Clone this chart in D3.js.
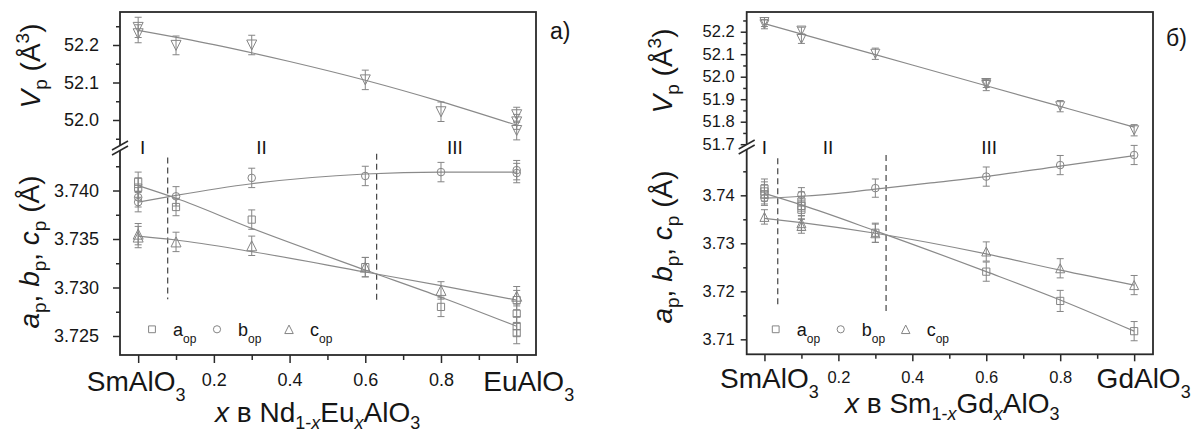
<!DOCTYPE html>
<html>
<head>
<meta charset="utf-8">
<script src="https://cdn.jsdelivr.net/npm/d3@7"></script>
<style>
  html, body { margin: 0; padding: 0; background: #fff; }
  svg { display: block; font-family: "Liberation Sans", Arial, Helvetica, sans-serif; }
</style>
</head>
<body>
<svg id="chart" width="1199" height="431"></svg>
<script>
// ---------- shared composition axis ----------
const xMajorTicks = [0, 0.2, 0.4, 0.6, 0.8, 1.0];
const xMinorTicks = [0.1, 0.3, 0.5, 0.7, 0.9];
const xInnerTicks = [0.2, 0.4, 0.6, 0.8];

// ---------- panel a) : [x, value, error] ----------
const volA = [[0, 52.247, 0.027], [0, 52.230, 0.024], [0.1, 52.199, 0.025], [0.3, 52.200, 0.026],
              [0.6, 52.107, 0.026], [0.8, 52.022, 0.026], [1, 52.014, 0.02], [1, 51.995, 0.02], [1, 51.972, 0.025]];
const aOpA = [[0, 3.7409, 0.0010], [0, 3.7403, 0.0010], [0.1, 3.7383, 0.0009], [0.3, 3.7370, 0.0010],
              [0.6, 3.7321, 0.0010], [0.8, 3.7280, 0.0010], [1, 3.7287, 0.0010], [1, 3.7273, 0.0010],
              [1, 3.7260, 0.0010], [1, 3.7253, 0.0011]];
const bOpA = [[0, 3.7393, 0.0010], [0, 3.7388, 0.0010], [0.1, 3.7394, 0.0010], [0.3, 3.7413, 0.0010],
              [0.6, 3.7415, 0.0010], [0.8, 3.7419, 0.0010], [1, 3.7421, 0.0010], [1, 3.7418, 0.0010]];
const cOpA = [[0, 3.7355, 0.0011], [0, 3.7352, 0.0011], [0.1, 3.7347, 0.0010], [0.3, 3.7343, 0.0010],
              [0.6, 3.7321, 0.0010], [0.8, 3.7297, 0.0009], [1, 3.7291, 0.0010]];
// fitted curves: [x, value]
const fitVolA = [[0, 52.239], [0.2, 52.201], [0.4, 52.156], [0.6, 52.106], [0.8, 52.049], [1, 51.986]];
const fitAA = [[0, 3.7405], [0.1, 3.7392], [0.3, 3.7361], [0.6, 3.7318], [0.8, 3.7290], [1, 3.7260]];
const fitBA = [[0, 3.7388], [0.1, 3.7395], [0.3, 3.7407], [0.6, 3.7417], [0.8, 3.7419], [1, 3.7419]];
const fitCA = [[0, 3.7353], [0.1, 3.7349], [0.3, 3.7337], [0.6, 3.7316], [0.8, 3.7302], [1, 3.7287]];
// phase boundaries: [x, low, high]
const boundsA = [[0.078, 3.7288, 3.7434], [0.630, 3.7287, 3.7438]];
const regionsA = [["I", 0.012], ["II", 0.326], ["III", 0.837]];

// ---------- panel б) ----------
const volB = [[0, 52.243, 0.02], [0, 52.233, 0.02], [0.1, 52.205, 0.015], [0.1, 52.168, 0.02],
              [0.3, 52.102, 0.025], [0.6, 51.972, 0.02], [0.6, 51.963, 0.025], [0.8, 51.869, 0.025], [1, 51.762, 0.025]];
const aOpB = [[0, 3.7414, 0.002], [0, 3.7408, 0.002], [0, 3.7402, 0.002], [0.1, 3.7387, 0.002],
              [0.1, 3.7378, 0.002], [0.1, 3.7370, 0.002], [0.3, 3.7322, 0.002], [0.6, 3.7241, 0.002],
              [0.8, 3.7180, 0.0022], [1, 3.7117, 0.002]];
const bOpB = [[0, 3.7394, 0.0015], [0.1, 3.7401, 0.0015], [0.3, 3.7415, 0.0019], [0.6, 3.7439, 0.002],
              [0.8, 3.7463, 0.002], [1, 3.7484, 0.002]];
const cOpB = [[0, 3.7355, 0.0015], [0.1, 3.7342, 0.0015], [0.1, 3.7336, 0.0015], [0.3, 3.7321, 0.0019],
              [0.6, 3.7283, 0.002], [0.8, 3.7248, 0.002], [1, 3.7213, 0.002]];
const fitVolB = [[0, 52.236], [0.2, 52.144], [0.4, 52.052], [0.6, 51.960], [0.8, 51.868], [1, 51.776]];
const fitAB = [[0, 3.7404], [0.1, 3.7380], [0.3, 3.7326], [0.6, 3.7241], [0.8, 3.7182], [1, 3.7117]];
const fitBB = [[0, 3.7394], [0.1, 3.7398], [0.2, 3.7404], [0.3, 3.7413], [0.45, 3.7426], [0.6, 3.7439], [0.8, 3.7461], [1, 3.74825]];
const fitCB = [[0, 3.7352], [0.1, 3.7343], [0.3, 3.7321], [0.6, 3.7278], [0.8, 3.7244], [1, 3.7213]];
const boundsB = [[0.036, 3.7165, 3.7477], [0.329, 3.7158, 3.7484]];
const regionsB = [["I", 0.0], ["II", 0.172], ["III", 0.608]];

// ---------- tick values ----------
const volTicksA = [52.0, 52.1, 52.2];
const volMinorA = [51.95, 52.05, 52.15, 52.25];
const latTicksA = [3.725, 3.730, 3.735, 3.740];
const latMinorA = [3.7275, 3.7325, 3.7375, 3.7425];
const volTicksB = [51.7, 51.8, 51.9, 52.0, 52.1, 52.2];
const volMinorB = [51.75, 51.85, 51.95, 52.05, 52.15, 52.25];
const latTicksB = [3.71, 3.72, 3.73, 3.74];
const latMinorB = [3.715, 3.725, 3.735, 3.745];

const legendNames = [["a", "op"], ["b", "op"], ["c", "op"]];

// ---------- styling ----------
const INK = "#161616";
const FRAME = "#2a2a2a";
const MARK = "#858585";
const FIT = "#8a8a8a";

const svg = d3.select("#chart");

// Rich text helper: parts are [text, mode, italic]; mode "sub" / "sup" / ""
function rich(sel, parts, size, small, subShift, supShift) {
  let cur = 0;
  parts.forEach(([t, mode, it]) => {
    const target = mode === "sub" ? subShift : mode === "sup" ? -supShift : 0;
    const ts = sel.append("tspan")
      .attr("dy", target - cur)
      .style("font-size", (mode ? small : size) + "px")
      .text(t);
    if (it) ts.style("font-style", "italic");
    cur = target;
  });
  return sel;
}

function markerPath(kind, s) {
  const h = s / 2;
  if (kind === "square") return `M${-h},${-h}H${h}V${h}H${-h}Z`;
  if (kind === "circle") return `M${h},0A${h},${h} 0 1,1 ${-h},0A${h},${h} 0 1,1 ${h},0Z`;
  if (kind === "up") return `M0,${-h}L${h},${h}L${-h},${h}Z`;
  return `M${-h},${-h}L${h},${-h}L0,${h}Z`; // down
}

function drawPanel(p) {
  const g = svg.append("g");
  const x = d3.scaleLinear().domain([-0.048, 1.051]).range([p.left, p.right]);
  const yV = d3.scaleLinear().domain(p.volDomain).range([p.volBottom, p.top]);
  const yL = d3.scaleLinear().domain(p.latDomain).range([p.bottom, p.latTop]);

  // axes (left and bottom), ticks outward
  const styleAxis = sel => {
    sel.select(".domain").remove();
    sel.selectAll(".tick line").attr("stroke", FRAME).attr("stroke-width", 1.5);
    sel.selectAll(".tick text").attr("fill", INK).style("font-size", p.tickFont + "px")
      .style("font-family", '"Liberation Sans", Arial, sans-serif');
  };
  g.append("g").attr("transform", `translate(${p.left},0)`)
    .call(d3.axisLeft(yV).tickValues(p.volTicks).tickSize(p.major).tickPadding(p.yPad).tickFormat(d3.format(".1f")))
    .call(styleAxis);
  g.append("g").attr("transform", `translate(${p.left},0)`)
    .call(d3.axisLeft(yV).tickValues(p.volMinor).tickSize(p.minor).tickFormat(""))
    .call(styleAxis);
  g.append("g").attr("transform", `translate(${p.left},0)`)
    .call(d3.axisLeft(yL).tickValues(p.latTicks).tickSize(p.major).tickPadding(p.yPad).tickFormat(d3.format(p.latFmt)))
    .call(styleAxis);
  g.append("g").attr("transform", `translate(${p.left},0)`)
    .call(d3.axisLeft(yL).tickValues(p.latMinor).tickSize(p.minor).tickFormat(""))
    .call(styleAxis);
  g.append("g").attr("transform", `translate(0,${p.bottom})`)
    .call(d3.axisBottom(x).tickValues(xMajorTicks).tickSize(p.major + 1).tickPadding(p.xPad)
      .tickFormat(d => xInnerTicks.includes(d) ? d3.format(".1f")(d) : ""))
    .call(styleAxis);
  g.append("g").attr("transform", `translate(0,${p.bottom})`)
    .call(d3.axisBottom(x).tickValues(xMinorTicks).tickSize(p.minor + 1).tickFormat(""))
    .call(styleAxis);

  // frame
  g.append("rect").attr("x", p.left).attr("y", p.top)
    .attr("width", p.right - p.left).attr("height", p.bottom - p.top)
    .attr("fill", "none").attr("stroke", FRAME).attr("stroke-width", 1.8);

  // axis break mark
  const bx = p.left, by = p.breakY;
  g.append("path")
    .attr("d", `M${bx - 8},${by + 2}L${bx + 8},${by - 7}L${bx + 8},${by - 2}L${bx - 8},${by + 7}Z`)
    .attr("fill", "#fff");
  [[2, -7], [7, -2]].forEach(([a, b]) => {
    g.append("line").attr("x1", bx - 8).attr("y1", by + a).attr("x2", bx + 8).attr("y2", by + b)
      .attr("stroke", FRAME).attr("stroke-width", 1.5);
  });

  // phase boundaries
  p.bounds.forEach(([bxv, lo, hi]) => {
    g.append("line").attr("x1", x(bxv)).attr("x2", x(bxv)).attr("y1", yL(hi)).attr("y2", yL(lo))
      .attr("stroke", "#444").attr("stroke-width", 1.2).attr("stroke-dasharray", "6,4");
  });

  // region labels
  p.regions.forEach(([t, rx]) => {
    g.append("text").attr("x", x(rx)).attr("y", 154).attr("text-anchor", "middle")
      .attr("fill", INK).style("font-size", "19px").text(t);
  });

  // fitted curves
  const lineV = d3.line().x(d => x(d[0])).y(d => yV(d[1])).curve(d3.curveMonotoneX);
  const lineL = d3.line().x(d => x(d[0])).y(d => yL(d[1])).curve(d3.curveMonotoneX);
  g.append("path").attr("d", lineV(p.fitVol)).attr("fill", "none").attr("stroke", FIT).attr("stroke-width", 1.2);
  p.fitLat.forEach(f => {
    g.append("path").attr("d", lineL(f)).attr("fill", "none").attr("stroke", FIT).attr("stroke-width", 1.2);
  });

  // points with error bars
  const drawSeries = (data, y, kind, size) => {
    const s = g.append("g").attr("stroke", MARK).attr("fill", "none").attr("stroke-width", 1);
    data.forEach(([xv, v, e]) => {
      const cx = x(xv), y1 = y(v + e), y2 = y(v - e);
      s.append("line").attr("x1", cx).attr("x2", cx).attr("y1", y1).attr("y2", y2);
      s.append("line").attr("x1", cx - 3.5).attr("x2", cx + 3.5).attr("y1", y1).attr("y2", y1);
      s.append("line").attr("x1", cx - 3.5).attr("x2", cx + 3.5).attr("y1", y2).attr("y2", y2);
      s.append("path").attr("transform", `translate(${cx},${y(v)})`).attr("d", markerPath(kind, size));
    });
  };
  drawSeries(p.vol, yV, "down", p.triSize);
  drawSeries(p.aOp, yL, "square", 7.2);
  drawSeries(p.bOp, yL, "circle", 7.6);
  drawSeries(p.cOp, yL, "up", p.triSize);

  // legend
  const kinds = [["square", 6.8], ["circle", 7.2], ["up", 8.5]];
  legendNames.forEach(([name, sub], i) => {
    const lx = p.left + p.legendX[i];
    g.append("path").attr("transform", `translate(${lx},329.3)`)
      .attr("d", markerPath(kinds[i][0], kinds[i][1]))
      .attr("fill", "none").attr("stroke", MARK).attr("stroke-width", 1);
    const t = g.append("text").attr("x", lx + 21).attr("y", 336).attr("fill", INK);
    rich(t, [[name, "", false], [sub, "sub", false]], 18, 12, 7, 0);
  });

  // end labels on the composition axis
  p.endLabels.forEach(([xv, base, dx]) => {
    const t = g.append("text").attr("x", x(xv) + dx).attr("y", p.endBase)
      .attr("text-anchor", "middle").attr("fill", INK);
    rich(t, [[base, "", false], ["3", "sub", false]], 28, 18, 10, 0);
  });

  // axis titles
  const xt = g.append("text").attr("x", p.xTitle[0]).attr("y", p.xTitle[1]).attr("fill", INK);
  rich(xt, p.xTitleParts, 28, 18, 7, 0);

  const vt = g.append("text")
    .attr("transform", `translate(${p.vTitle[0]},${p.vTitle[1]}) rotate(-90)`)
    .attr("text-anchor", "middle").attr("fill", INK);
  rich(vt, [["V", "", true], ["p", "sub", false], [" (Å", "", false], ["3", "sup", false], [")", "", false]], 28, 19, 7, 11);

  const lt = g.append("text")
    .attr("transform", `translate(${p.lTitle[0]},${p.lTitle[1]}) rotate(-90)`)
    .attr("text-anchor", "middle").attr("fill", INK);
  rich(lt, [["a", "", true], ["p", "sub", false], [", ", "", false], ["b", "", true], ["p", "sub", false],
            [", ", "", false], ["c", "", true], ["p", "sub", false], [" (Å)", "", false]], 28, 19, 7, 11);

  // panel tag
  g.append("text").attr("x", p.tag[1]).attr("y", p.tag[2]).attr("fill", INK)
    .style("font-size", "23px").text(p.tag[0]);
}

drawPanel({
  left: 120, right: 536, top: 12, bottom: 355,
  volBottom: 147, volDomain: [51.928, 52.288],
  latTop: 149, latDomain: [3.72304, 3.74428],
  breakY: 148,
  volTicks: volTicksA, volMinor: volMinorA, latTicks: latTicksA, latMinor: latMinorA, latFmt: ".3f",
  major: 7, minor: 4, yPad: 14, xPad: 10, tickFont: 18,
  vol: volA, aOp: aOpA, bOp: bOpA, cOp: cOpA,
  fitVol: fitVolA, fitLat: [fitAA, fitBA, fitCA],
  bounds: boundsA, regions: regionsA, triSize: 10,
  legendX: [32, 97, 169],
  endBase: 391, endLabels: [[0, "SmAlO", -2], [1, "EuAlO", 12]],
  xTitle: [215, 421.5],
  xTitleParts: [["x", "", true], [" в Nd", "", false], ["1-", "sub", false], ["x", "sub", true],
                ["Eu", "", false], ["x", "sub", true], ["AlO", "", false], ["3", "sub", false]],
  vTitle: [40, 66], lTitle: [39, 252],
  tag: ["а)", 550, 39]
});

drawPanel({
  left: 746.7, right: 1153, top: 12, bottom: 354.3,
  volBottom: 146, volDomain: [51.692, 52.2876],
  latTop: 150, latDomain: [3.70688, 3.74944],
  breakY: 147,
  volTicks: volTicksB, volMinor: volMinorB, latTicks: latTicksB, latMinor: latMinorB, latFmt: ".2f",
  major: 6, minor: 3.5, yPad: 6, xPad: 10, tickFont: 16.5,
  vol: volB, aOp: aOpB, bOp: bOpB, cOp: cOpB,
  fitVol: fitVolB, fitLat: [fitAB, fitBB, fitCB],
  bounds: boundsB, regions: regionsB, triSize: 9,
  legendX: [29, 94, 159],
  endBase: 387.5, endLabels: [[0, "SmAlO", 5], [1, "GdAlO", 9.5]],
  xTitle: [845, 413],
  xTitleParts: [["x", "", true], [" в Sm", "", false], ["1-", "sub", false], ["x", "sub", true],
                ["Gd", "", false], ["x", "sub", true], ["AlO", "", false], ["3", "sub", false]],
  vTitle: [672, 71], lTitle: [672, 247],
  tag: ["б)", 1166, 46]
});
</script>
</body>
</html>
